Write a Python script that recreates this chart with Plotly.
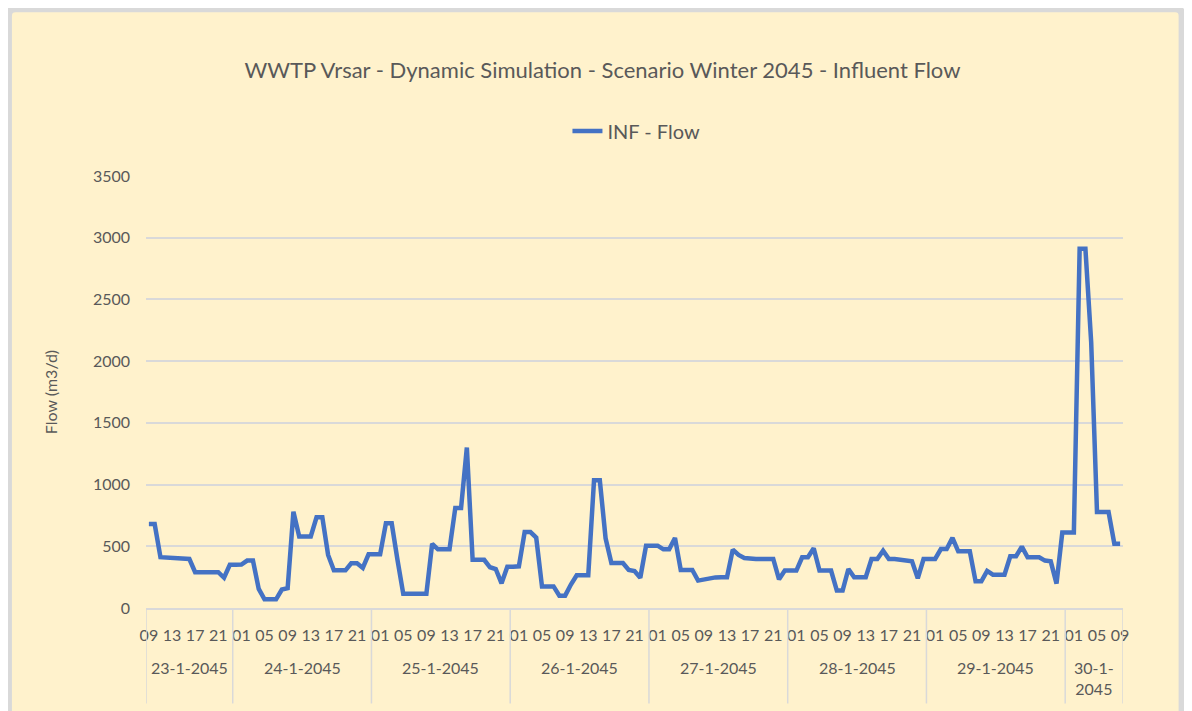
import plotly.graph_objects as go

# dates shown on the second level of the category axis
days = ["23-1-2045", "24-1-2045", "25-1-2045", "26-1-2045",
        "27-1-2045", "28-1-2045", "29-1-2045", "30-1-2045"]
hours_per_day = [15, 24, 24, 24, 24, 24, 24, 10]  # 23-1 starts at 09:00, 30-1 ends at 09:00

# hour labels written on the axis (every 4th hour)
hour_ticks = ["09", "13", "17", "21"] + ["01", "05", "09", "13", "17", "21"] * 6 + ["01", "05", "09"]

# INF - Flow (m3/d), hourly values
flow = [
    680, 680, 412, 410, 408, 406, 403, 397, 290, 290, 290, 290, 290, 245, 350,
    350, 352, 384, 384, 155, 70, 70, 70, 150, 160, 780, 580, 580, 580, 735,
    735, 430, 305, 305, 305, 362, 362, 325, 435, 435, 435, 686, 686, 390, 115,
    115, 115, 115, 115, 520, 475, 475, 475, 810, 810, 1300, 390, 390, 390, 330,
    316, 200, 335, 335, 338, 615, 615, 570, 175, 175, 175, 100, 100, 190, 265,
    265, 265, 1035, 1035, 565, 365, 365, 365, 308, 300, 245, 505, 505, 505, 475,
    475, 568, 308, 308, 308, 222, 230, 245, 248, 250, 250, 473, 430, 405, 397,
    397, 397, 397, 397, 232, 303, 303, 303, 411, 411, 484, 303, 303, 303, 141,
    141, 316, 249, 249, 249, 397, 397, 465, 397, 397, 390, 380, 378, 241, 397,
    397, 397, 478, 478, 568, 459, 459, 459, 216, 216, 300, 270, 270, 270, 419,
    419, 497, 411, 411, 411, 384, 378, 198, 612, 612, 612, 2910, 2910, 2150, 778,
    778, 778, 521, 521,
]

x_idx = list(range(len(flow)))
tick_pos = x_idx[::4]

grid_col = "#D9D9D9"
txt_col = "#595959"
font_fam = "Lato, 'Open Sans', sans-serif"

W, H = 1184, 703  # page body has an 8px margin

fig = go.Figure()
fig.add_trace(go.Scatter(x=x_idx, y=flow, mode="lines", name="INF - Flow",
                         line=dict(color="#4472C4", width=4.5)))

# day group boundaries + labels under the hour row
shapes = []
annotations = []
start = -0.5
for d, n in zip(days, hours_per_day):
    end = start + n
    shapes.append(dict(type="line", xref="x", yref="paper", x0=start, x1=start,
                       y0=0, y1=-0.221, line=dict(color=grid_col, width=1.5)))
    label = d if n > 12 else d.replace("-2045", "-<br>2045")
    annotations.append(dict(x=(start + end) / 2, y=-0.110, xref="x", yref="paper",
                            text=label, showarrow=False, yanchor="top",
                            font=dict(size=16, color=txt_col, family=font_fam)))
    start = end
shapes.append(dict(type="line", xref="x", yref="paper", x0=start, x1=start,
                   y0=0, y1=-0.221, line=dict(color=grid_col, width=1.5)))

# chart area background with grey rounded frame (paper units)
x0, x1, y0, y1 = -0.1408, 1.0605, -0.30, 1.3870
rx, ry = 0.007, 0.016
frame = (f"M {x0 + rx} {y1} L {x1 - rx} {y1} Q {x1} {y1} {x1} {y1 - ry} "
         f"L {x1} {y0} L {x0} {y0} L {x0} {y1 - ry} Q {x0} {y1} {x0 + rx} {y1} Z")
shapes.insert(0, dict(type="path", xref="paper", yref="paper", layer="below", path=frame,
                      fillcolor="#FFF2CC", line=dict(color=grid_col, width=7)))

fig.update_layout(
    width=W, height=H,
    margin=dict(l=138, r=69, t=168, b=103),
    paper_bgcolor="white", plot_bgcolor="white",
    font=dict(family=font_fam, size=16, color=txt_col),
    title=dict(text="WWTP Vrsar - Dynamic Simulation - Scenario Winter 2045 - Influent Flow",
               x=594.5 / W, xref="container", y=1 - 62 / H, yref="container",
               xanchor="center", yanchor="middle",
               font=dict(size=22, color=txt_col, family=font_fam)),
    showlegend=True,
    legend=dict(orientation="h", x=0.502, y=1.104, xanchor="center", yanchor="middle",
                bgcolor="rgba(0,0,0,0)", font=dict(size=20, color=txt_col)),
    shapes=shapes, annotations=annotations,
)

fig.update_xaxes(range=[-0.5, len(flow) - 0.5], tickmode="array", tickvals=tick_pos,
                 ticktext=hour_ticks, showgrid=False, zeroline=False, showline=True,
                 linecolor=grid_col, linewidth=1.5, ticks="", ticklabelstandoff=12,
                 tickangle=0, tickfont=dict(size=16, color=txt_col))
fig.update_yaxes(range=[0, 3500], dtick=500, showgrid=True, gridcolor=grid_col,
                 gridwidth=1.5, zeroline=False, showline=False, ticks="",
                 ticklabelstandoff=15, tickfont=dict(size=16, color=txt_col),
                 title=dict(text="Flow (m3/d)", standoff=31, font=dict(size=16, color=txt_col)))

fig.write_html("out.html")
